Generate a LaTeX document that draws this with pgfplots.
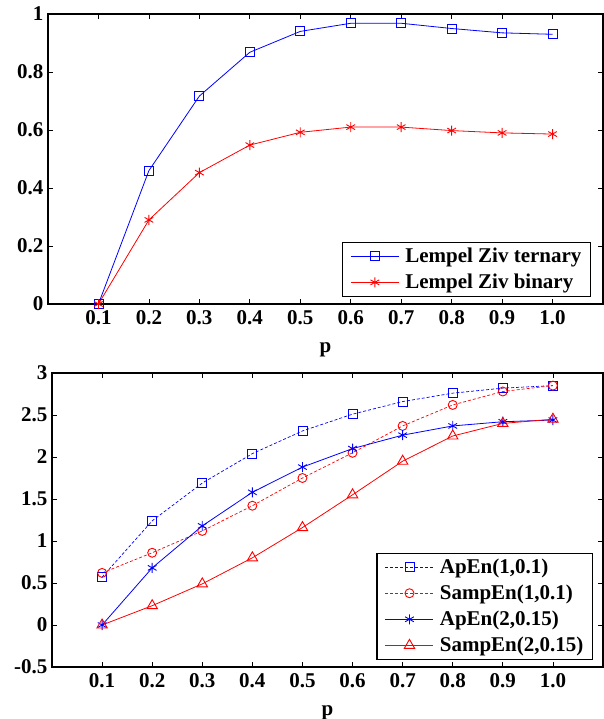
\documentclass[border=0pt]{standalone}
\usepackage{fontspec}
\setmainfont{Liberation Serif}
\usepackage{pgfplots}
\pgfplotsset{compat=1.18}

\definecolor{mblue}{RGB}{0,0,255}
\definecolor{mred}{RGB}{255,0,0}

\pgfplotsset{
  mstyle/.style={
    scale only axis,
    xmin=0, xmax=1.1,
    xtick={0.1,0.2,0.3,0.4,0.5,0.6,0.7,0.8,0.9,1.0},
    xticklabels={0.1,0.2,0.3,0.4,0.5,0.6,0.7,0.8,0.9,1.0},
    tick align=inside,
    major tick length=5pt,
    axis line style={line width=1.3pt},
    tick style={line width=0.8pt, black},
    /pgf/number format/assume math mode=true,
    tick label style={font=\fontsize{21}{25}\selectfont\bfseries},
    label style={font=\fontsize{21}{25}\selectfont\bfseries},
    xticklabel style={yshift=-3pt},
    yticklabel style={xshift=-1pt},
    legend style={font=\fontsize{21}{25}\selectfont\bfseries, draw=black,
      line width=1.2pt, inner xsep=8pt, inner ysep=5pt, row sep=8pt,
      nodes={inner sep=1pt}},
    legend cell align=left,
    legend image code/.code={
      \draw[#1] (0pt,0pt) -- (48pt,0pt);
      \draw[#1, solid] plot coordinates {(24pt,0pt)};
      \path (53pt,0pt);
    },
  },
}

\begin{document}
\begin{tikzpicture}
\useasboundingbox (0,0) rectangle (604pt,-719pt);

% top panel: Lempel Ziv
\begin{axis}[mstyle,
  at={(48pt,-304pt)}, anchor=south west,
  width=555pt, height=290pt,
  ymin=0, ymax=1,
  ytick={0,0.2,0.4,0.6,0.8,1},
  xlabel={p},
  xlabel style={yshift=-11pt},
  legend style={at={(1,0)}, anchor=south east, xshift=-12pt, yshift=7pt},
]
\addplot[mblue, line width=0.8pt, mark=square, mark size=4.5pt, mark options={line width=0.9pt}] coordinates {
  (0.1,0.0) (0.2,0.46) (0.3,0.717) (0.4,0.868) (0.5,0.94)
  (0.6,0.968) (0.7,0.968) (0.8,0.95) (0.9,0.935) (1.0,0.93)
};
\addlegendentry{Lempel Ziv ternary}
\addplot[mred, line width=0.8pt, mark=asterisk, mark size=5pt, mark options={line width=0.9pt}] coordinates {
  (0.1,0.0) (0.2,0.29) (0.3,0.453) (0.4,0.548) (0.5,0.592)
  (0.6,0.61) (0.7,0.61) (0.8,0.598) (0.9,0.59) (1.0,0.586)
};
\addlegendentry{Lempel Ziv binary}
\end{axis}

% bottom panel: ApEn / SampEn
\begin{axis}[mstyle,
  at={(52pt,-667pt)}, anchor=south west,
  width=551pt, height=294pt,
  ymin=-0.5, ymax=3,
  ytick={-0.5,0,0.5,1,1.5,2,2.5,3},
  xlabel={p},
  xlabel style={yshift=-11pt},
  legend style={at={(1,0)}, anchor=south east, xshift=-10pt, yshift=7pt},
]
\addplot[mblue, line width=0.7pt, densely dashed, mark=square, mark size=4.5pt, mark options={solid, line width=0.9pt}] coordinates {
  (0.1,0.57) (0.2,1.24) (0.3,1.69) (0.4,2.04) (0.5,2.31)
  (0.6,2.51) (0.7,2.66) (0.8,2.76) (0.9,2.82) (1.0,2.85)
};
\addlegendentry{ApEn(1,0.1)}
\addplot[mred, line width=0.7pt, densely dashed, mark=o, mark size=4.5pt, mark options={solid, line width=0.9pt}] coordinates {
  (0.1,0.62) (0.2,0.86) (0.3,1.12) (0.4,1.42) (0.5,1.75)
  (0.6,2.05) (0.7,2.37) (0.8,2.62) (0.9,2.78) (1.0,2.85)
};
\addlegendentry{SampEn(1,0.1)}
\addplot[mblue, line width=0.8pt, mark=asterisk, mark size=5pt, mark options={line width=0.9pt}] coordinates {
  (0.1,0.0) (0.2,0.68) (0.3,1.18) (0.4,1.58) (0.5,1.88)
  (0.6,2.10) (0.7,2.26) (0.8,2.37) (0.9,2.42) (1.0,2.44)
};
\addlegendentry{ApEn(2,0.15)}
\addplot[mred, line width=0.8pt, mark=triangle, mark size=6pt, mark options={line width=0.9pt}] coordinates {
  (0.1,0.0) (0.2,0.23) (0.3,0.49) (0.4,0.80) (0.5,1.16)
  (0.6,1.55) (0.7,1.95) (0.8,2.25) (0.9,2.40) (1.0,2.45)
};
\addlegendentry{SampEn(2,0.15)}
\end{axis}
\end{tikzpicture}
\end{document}
